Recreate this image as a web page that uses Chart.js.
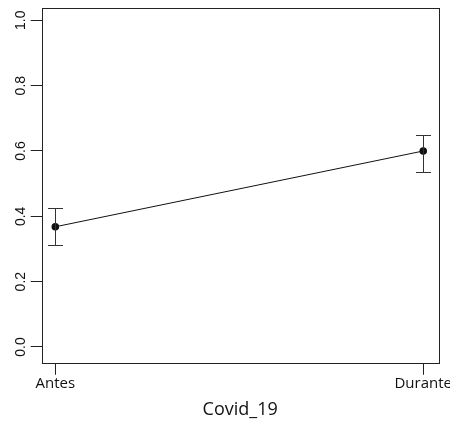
<!DOCTYPE html>
<html>
<head>
<meta charset="utf-8">
<script src="https://cdn.jsdelivr.net/npm/chart.js@4"></script>
<style>
html,body{margin:0;padding:0;background:#fff;}
#wrap{width:450px;height:424px;}
</style>
</head>
<body>
<div id="wrap"><canvas id="c" width="450" height="424"></canvas></div>
<script>
const categories = ["Antes", "Durante"];
const xPositions = [1, 2];
const means = [0.368, 0.600];
const lowerCI = [0.311, 0.535];
const upperCI = [0.424, 0.648];
const yTickValues = [0.0, 0.2, 0.4, 0.6, 0.8, 1.0];
const yTickLabels = ["0.0", "0.2", "0.4", "0.6", "0.8", "1.0"];
const xTitle = "Covid_19";

const points = xPositions.map((x, i) => ({x: x, y: means[i]}));

const boxAndErrors = {
  id: 'boxAndErrors',
  afterDatasetsDraw(chart) {
    const ctx = chart.ctx;
    const a = chart.chartArea;
    const xs = chart.scales.x, ys = chart.scales.y;
    ctx.save();
    // box
    ctx.strokeStyle = '#222';
    ctx.lineWidth = 1;
    ctx.strokeRect(Math.round(a.left) + 0.5, Math.round(a.top) + 0.5,
      Math.round(a.right - a.left), Math.round(a.bottom - a.top));
    // error bars
    ctx.strokeStyle = '#333';
    xPositions.forEach((xv, i) => {
      const px = Math.round(xs.getPixelForValue(xv)) + 0.5;
      const pl = ys.getPixelForValue(lowerCI[i]);
      const pu = ys.getPixelForValue(upperCI[i]);
      const hw = 7.5;
      ctx.beginPath();
      ctx.moveTo(px, pl); ctx.lineTo(px, pu);
      ctx.moveTo(px - hw, Math.round(pl) + 0.5); ctx.lineTo(px + hw, Math.round(pl) + 0.5);
      ctx.moveTo(px - hw, Math.round(pu) + 0.5); ctx.lineTo(px + hw, Math.round(pu) + 0.5);
      ctx.stroke();
    });
    // rotated y tick labels
    ctx.fillStyle = '#111';
    ctx.font = '14px "Liberation Sans", Arial, sans-serif';
    ctx.textAlign = 'center';
    ctx.textBaseline = 'middle';
    ys.ticks.forEach((t, i) => {
      const py = ys.getPixelForValue(t.value);
      ctx.save();
      ctx.translate(21, py);
      ctx.rotate(-Math.PI / 2);
      ctx.fillText(yTickLabels[i], 0, 0);
      ctx.restore();
    });
    ctx.restore();
  }
};

new Chart(document.getElementById('c'), {
  type: 'scatter',
  data: {
    datasets: [{
      data: points,
      showLine: true,
      borderColor: '#111',
      borderWidth: 1,
      backgroundColor: '#111',
      pointRadius: 3.8,
      pointBorderWidth: 0,
      pointHoverRadius: 3.8
    }]
  },
  options: {
    responsive: false,
    animation: false,
    devicePixelRatio: 1,
    layout: {padding: {top: 8, right: 11.3, left: 0, bottom: 0}},
    plugins: {legend: {display: false}, tooltip: {enabled: false}},
    scales: {
      x: {
        type: 'linear',
        min: 0.963,
        max: 2.042,
        afterBuildTicks(s) { s.ticks = xPositions.map(v => ({value: v})); },
        afterFit(s) { s.height = 60.7; s.paddingLeft = 0; s.paddingRight = 0; },
        grid: {drawOnChartArea: false, drawTicks: true, tickLength: 11.5, color: '#222', lineWidth: 1},
        border: {display: false},
        ticks: {
          autoSkip: false,
          maxRotation: 0,
          minRotation: 0,
          padding: 0,
          color: '#111',
          font: {family: '"Open Sans", sans-serif', size: 15},
          callback: (v) => { const i = xPositions.indexOf(v); return i >= 0 ? categories[i] : ''; }
        },
        title: {
          display: true,
          text: xTitle,
          color: '#111',
          font: {family: '"Open Sans", sans-serif', size: 18},
          padding: {top: 3, bottom: 3}
        }
      },
      y: {
        type: 'linear',
        min: -0.0499,
        max: 1.0377,
        afterBuildTicks(s) { s.ticks = yTickValues.map(v => ({value: v})); },
        afterFit(s) { s.width = 41.7; s.paddingTop = 0; s.paddingBottom = 0; },
        grid: {drawOnChartArea: false, drawTicks: true, tickLength: 11, color: '#222', lineWidth: 1},
        border: {display: false},
        ticks: {color: 'rgba(0,0,0,0)', font: {size: 13}}
      }
    }
  },
  plugins: [boxAndErrors]
});
</script>
</body>
</html>
